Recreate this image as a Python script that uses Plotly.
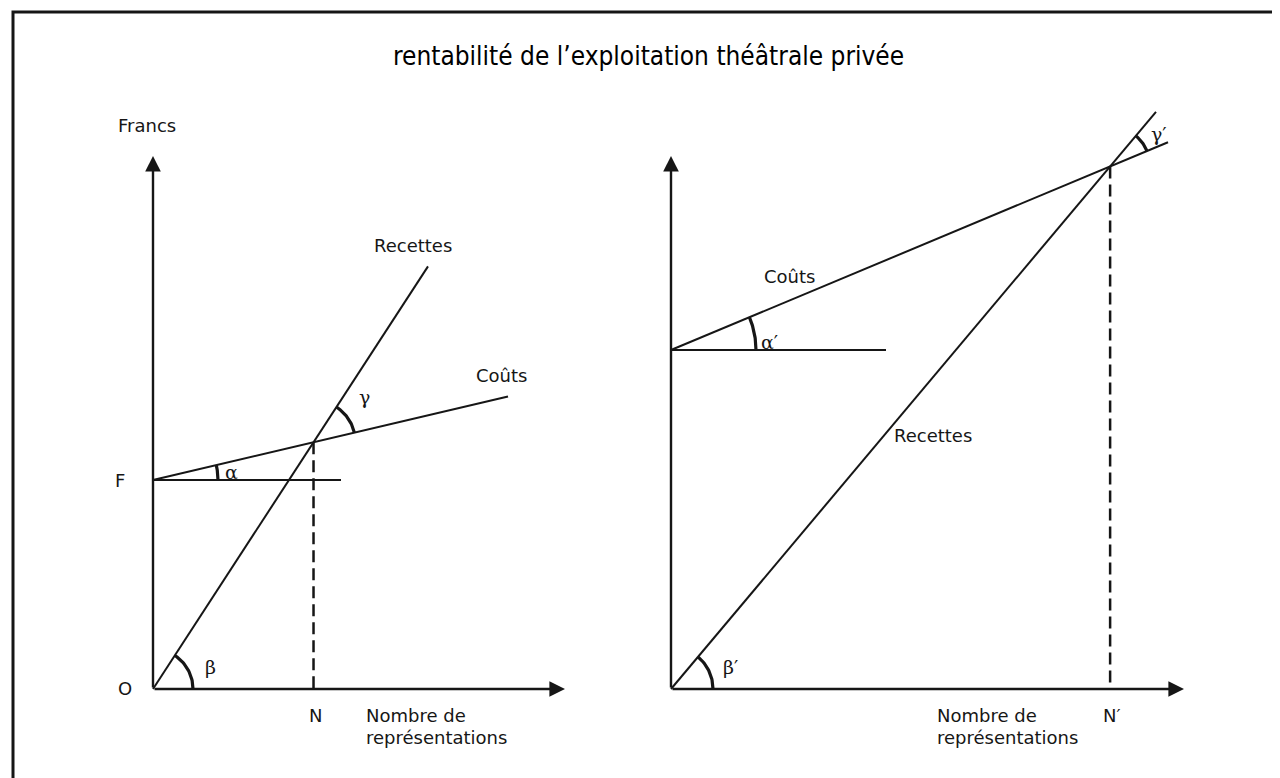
import numpy as np
import plotly.graph_objects as go

# modèle : coûts = F + a*n ; recettes = b*n
panels = ["gauche", "droite"]
fixed_costs = [209, 339]          # F, F'
cost_slopes = [0.235, 0.418]      # tg alpha
revenue_slopes = [1.537, 1.19]    # tg beta
cost_ends = [355, 497]
revenue_ends = [275, 485]
fixed_line_ends = [188, 215]
axis_x_max = [412, 513]
axis_y_max = [533, 533]
primes = ["", "\u2032"]
break_labels = ["N", "N\u2032"]
fixed_labels = ["F", "F\u2032"]

title = "rentabilité de l\u2019exploitation théâtrale privée"
INK = "#161616"
LBL = dict(family="DejaVu Sans", size=18, color=INK)

fig = go.Figure()
annotations = []
shapes = []

for i, p in enumerate(panels):
    xa = "x" if i == 0 else "x2"
    ya = "y" if i == 0 else "y2"
    F, a, b = fixed_costs[i], cost_slopes[i], revenue_slopes[i]
    n_star = F / (b - a)
    y_star = b * n_star

    def line(xs, ys, width=2, dash=None):
        fig.add_trace(go.Scatter(x=xs, y=ys, mode="lines", xaxis=xa, yaxis=ya,
                                 line=dict(color=INK, width=width, dash=dash),
                                 hoverinfo="skip", showlegend=False))

    # coûts
    line([0, cost_ends[i]], [F, F + a * cost_ends[i]])
    # recettes
    line([0, revenue_ends[i]], [0, b * revenue_ends[i]])
    # horizontale F
    line([0, fixed_line_ends[i]], [F, F], width=2.2)
    # pointillés N
    line([n_star, n_star], [y_star, 0], width=2.5, dash="12px,6px")

    # arcs d'angle
    def arc(cx, cy, r, t0, t1):
        t = np.linspace(t0, t1, 30)
        line(cx + r * np.cos(t), cy + r * np.sin(t), width=3.2)

    ta, tb = np.arctan(a), np.arctan(b)
    arc(0, F, 65 if i == 0 else 85, 0, ta)
    arc(0, 0, 40 if i == 0 else 42, 0, tb)
    arc(n_star, y_star, 42 if i == 0 else 40, ta, tb)

    # axes avec flèches
    for (x0, y0, x1, y1) in [(0, 0, axis_x_max[i], 0), (0, 0, 0, axis_y_max[i])]:
        annotations.append(dict(x=x1, y=y1, ax=x0, ay=y0, xref=xa, yref=ya,
                                axref=xa, ayref=ya, showarrow=True, text="",
                                arrowhead=2, arrowsize=1.3, arrowwidth=2.4,
                                arrowcolor=INK))

    def txt(x, y, s, font=LBL, xanchor="center", yanchor="middle"):
        annotations.append(dict(x=x, y=y, xref=xa, yref=ya, text=s, showarrow=False,
                                font=font, xanchor=xanchor, yanchor=yanchor))

    greek = dict(family="DejaVu Serif", size=19, color=INK)
    big = dict(family="DejaVu Sans", size=18, color=INK)
    txt(-28, 1, "O", font=big)
    txt(-33, F, fixed_labels[i], font=big)
    txt(-37, axis_y_max[i] + 31, "Francs", xanchor="left")
    txt(n_star + 2, -26, break_labels[i], font=big)
    if i == 0:
        txt(n_star + 50, -26, "Nombre de", xanchor="left")
        txt(n_star + 50, -48, "représentations", xanchor="left")
        txt(revenue_ends[i] - 15, b * revenue_ends[i] + 21, "Recettes")
        txt(cost_ends[i] - 7, F + a * cost_ends[i] + 21, "Coûts")
    else:
        txt(n_star - 175, -26, "Nombre de", xanchor="left")
        txt(n_star - 175, -48, "représentations", xanchor="left")
        txt(262, 254, "Recettes")
        txt(118, F + a * 118 + 24, "Coûts")
    txt(50, 22, "\u03b2" + primes[i], font=greek, xanchor="left")
    txt(78 if i == 0 else 98, F + 8, "\u03b1" + primes[i], font=greek)
    g_r = 68 if i == 0 else 58
    gm = (ta + tb) / 2 + (0.12 if i == 0 else -0.05)
    txt(n_star + g_r * np.cos(gm), y_star + g_r * np.sin(gm), "\u03b3" + primes[i], font=greek)

# cadre
shapes.append(dict(type="rect", xref="paper", yref="paper", x0=5 / 1280, x1=1272 / 1280,
                   y0=-0.05, y1=1 - 4 / 778, line=dict(color=INK, width=3)))
annotations.append(dict(x=0.5, y=1 - 48 / 778, xref="paper", yref="paper", text=title,
                        showarrow=False, yanchor="middle",
                        font=dict(family="DejaVu Sans Condensed, Liberation Sans Narrow",
                                  size=26, color="#000")))

hidden = dict(visible=False, showgrid=False, zeroline=False)
fig.update_layout(
    width=1280, height=778, margin=dict(l=0, r=0, t=0, b=0),
    paper_bgcolor="white", plot_bgcolor="white", showlegend=False,
    xaxis=dict(domain=[0, 0.5], range=[-145, 495], **hidden),
    xaxis2=dict(domain=[0.5, 1], range=[-23, 617], **hidden),
    yaxis=dict(domain=[0, 1], range=[-97, 681], **hidden),
    yaxis2=dict(domain=[0, 1], range=[-97, 681], anchor="x2", **hidden),
    annotations=annotations, shapes=shapes,
)
fig.write_html("out.html")
